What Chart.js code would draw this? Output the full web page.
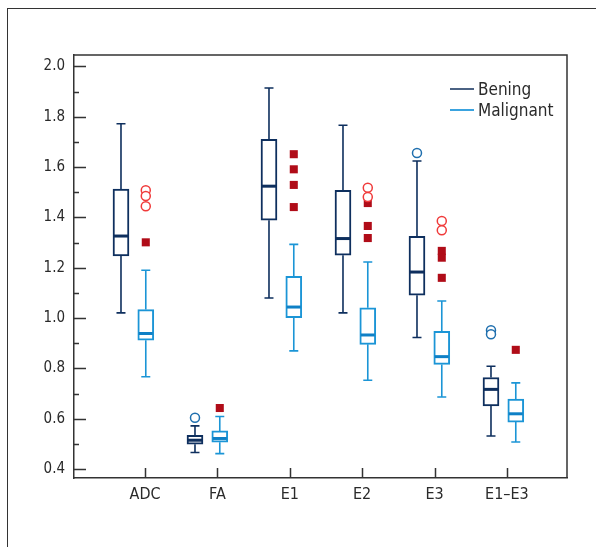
<!DOCTYPE html>
<html>
<head>
<meta charset="utf-8">
<script src="https://cdn.jsdelivr.net/npm/chart.js@4.4.1/dist/chart.umd.min.js"></script>
<style>
  html, body { margin: 0; padding: 0; background: #fff; }
  #frame { position: absolute; left: 7px; top: 8px; width: 620px; height: 560px;
           border-left: 1px solid #333; border-top: 1px solid #333; }
  canvas { position: absolute; left: 0; top: 0; }
</style>
</head>
<body>
<div id="frame"></div>
<canvas id="myChart" width="596" height="547"></canvas>
<script>
// data
var categories = ['ADC', 'FA', 'E1', 'E2', 'E3', 'E1\u2013E3'];
var yTicks = [0.4, 0.6, 0.8, 1.0, 1.2, 1.4, 1.6, 1.8, 2.0];

var beningMin    = [1.021, 0.466, 1.080, 1.021, 0.923, 0.532];
var beningQ1     = [1.247, 0.499, 1.389, 1.250, 1.091, 0.651];
var beningMedian = [1.326, 0.515, 1.524, 1.316, 1.183, 0.717];
var beningQ3     = [1.512, 0.534, 1.710, 1.508, 1.325, 0.764];
var beningMax    = [1.772, 0.572, 1.914, 1.766, 1.624, 0.809];
var beningOutliers = [[], [0.604], [], [], [1.656], [0.952, 0.936]];

var malignantMin    = [0.767, 0.462, 0.870, 0.753, 0.687, 0.508];
var malignantQ1     = [0.912, 0.507, 1.002, 0.896, 0.816, 0.587];
var malignantMedian = [0.939, 0.522, 1.044, 0.933, 0.847, 0.620];
var malignantQ3     = [1.034, 0.552, 1.166, 1.041, 0.948, 0.678];
var malignantMax    = [1.190, 0.609, 1.293, 1.223, 1.068, 0.743];
var malignantOutliers = [[1.508, 1.485, 1.444], [], [], [1.518, 1.481], [1.386, 1.349], []];
var malignantExtremes = [[1.301], [0.643], [1.651, 1.591, 1.529, 1.441],
                         [1.457, 1.366, 1.318], [1.267, 1.240, 1.160], [0.874]];

var fontFamily = "'Liberation Sans Narrow', 'DejaVu Sans Condensed', 'Arial Narrow', sans-serif";
var textColor = '#2a2a2a';
var axisColor = '#333';

var groups = [
    { label: 'Bening', color: '#0e2f5e', legendColor: '#4b6283', offset: 0.635,
      min: beningMin, q1: beningQ1, median: beningMedian, q3: beningQ3, max: beningMax },
    { label: 'Malignant', color: '#1b95d6', legendColor: '#3aa3df', offset: 0.97,
      min: malignantMin, q1: malignantQ1, median: malignantMedian, q3: malignantQ3, max: malignantMax }
];

function tickPos(k) { return 0.96 + 0.978 * k; }

function points(lists, offset) {
    var pts = [];
    lists.forEach(function (vals, k) {
        vals.forEach(function (v) { pts.push({ x: k + offset, y: v }); });
    });
    return pts;
}

var datasets = [];
// outliers first so they are drawn on top
datasets.push({
    type: 'scatter', label: 'Bening outliers', data: points(beningOutliers, groups[0].offset),
    pointStyle: 'circle', pointRadius: 4.5, borderWidth: 1.5,
    borderColor: '#1f6fae', backgroundColor: '#fff'
});
datasets.push({
    type: 'scatter', label: 'Malignant outliers', data: points(malignantOutliers, groups[1].offset),
    pointStyle: 'circle', pointRadius: 4.5, borderWidth: 1.5,
    borderColor: '#f03a3a', backgroundColor: '#fff'
});
datasets.push({
    type: 'scatter', label: 'Malignant extremes', data: points(malignantExtremes, groups[1].offset),
    pointStyle: 'rect', pointRadius: 5.7, borderWidth: 0,
    borderColor: '#b00c18', backgroundColor: '#b00c18'
});
groups.forEach(function (g) {
    datasets.push({
        type: 'bar', label: g.label,
        data: categories.map(function (c, k) { return { x: k + g.offset, y: [g.q1[k], g.q3[k]] }; }),
        backgroundColor: '#fff', borderColor: g.color, borderWidth: 2,
        borderSkipped: false, barThickness: 16, grouped: false
    });
});

var boxPlugin = {
    id: 'boxWhiskers',
    beforeDatasetsDraw: function (chart) {
        var ctx = chart.ctx, xs = chart.scales.x, ys = chart.scales.y;
        ctx.save();
        groups.forEach(function (g) {
            ctx.strokeStyle = g.color;
            ctx.lineWidth = 1.6;
            categories.forEach(function (c, k) {
                var x = xs.getPixelForValue(k + g.offset);
                var yMin = ys.getPixelForValue(g.min[k]), yQ1 = ys.getPixelForValue(g.q1[k]);
                var yQ3 = ys.getPixelForValue(g.q3[k]), yMax = ys.getPixelForValue(g.max[k]);
                ctx.beginPath();
                ctx.moveTo(x, yMax); ctx.lineTo(x, yQ3);
                ctx.moveTo(x, yQ1); ctx.lineTo(x, yMin);
                ctx.moveTo(x - 4.5, yMax); ctx.lineTo(x + 4.5, yMax);
                ctx.moveTo(x - 4.5, yMin); ctx.lineTo(x + 4.5, yMin);
                ctx.stroke();
            });
        });
        ctx.restore();
    },
    afterDatasetsDraw: function (chart) {
        var ctx = chart.ctx, xs = chart.scales.x, ys = chart.scales.y;
        ctx.save();
        groups.forEach(function (g, gi) {
            ctx.strokeStyle = gi === 0 ? g.color : '#0f80c6';
            ctx.lineWidth = 3;
            categories.forEach(function (c, k) {
                var x = xs.getPixelForValue(k + g.offset);
                var y = ys.getPixelForValue(g.median[k]);
                ctx.beginPath();
                ctx.moveTo(x - 7, y); ctx.lineTo(x + 7, y);
                ctx.stroke();
            });
        });
        ctx.restore();
    },
    afterDraw: function (chart) {
        var ctx = chart.ctx, xs = chart.scales.x, ys = chart.scales.y, a = chart.chartArea;
        ctx.save();
        ctx.strokeStyle = axisColor;
        ctx.lineWidth = 1.5;
        ctx.beginPath();
        // plot frame top and right
        ctx.moveTo(a.left, a.top); ctx.lineTo(a.right, a.top); ctx.lineTo(a.right, a.bottom);
        // y ticks, pointing inside
        for (var v = 4; v <= 20; v++) {
            var y = Math.round(ys.getPixelForValue(v / 10)) + 0.5;
            ctx.moveTo(a.left, y); ctx.lineTo(a.left + (v % 2 === 0 ? 12 : 5), y);
        }
        // x ticks
        categories.forEach(function (c, k) {
            var x = Math.round(xs.getPixelForValue(tickPos(k))) + 0.5;
            ctx.moveTo(x, a.bottom); ctx.lineTo(x, a.bottom - 10);
        });
        ctx.stroke();

        // legend
        ctx.font = '17px ' + fontFamily;
        ctx.textBaseline = 'alphabetic';
        ctx.textAlign = 'left';
        groups.forEach(function (g, i) {
            var lx = a.right - 117, ly = a.top + 34 + i * 21;
            ctx.strokeStyle = g.legendColor;
            ctx.lineWidth = 2;
            ctx.beginPath();
            ctx.moveTo(lx, ly); ctx.lineTo(lx + 24, ly);
            ctx.stroke();
            ctx.fillStyle = textColor;
            ctx.fillText(g.label, lx + 28, ly + 6);
        });
        ctx.restore();
    }
};

var ctx = document.getElementById('myChart').getContext('2d');
var chart = new Chart(ctx, {
    type: 'bar',
    data: { datasets: datasets },
    options: {
        responsive: false,
        animation: false,
        events: [],
        layout: { padding: { top: 55, right: 29, left: 0, bottom: 0 } },
        plugins: { legend: { display: false }, tooltip: { enabled: false } },
        scales: {
            x: {
                type: 'linear',
                offset: false,
                min: 0,
                max: 493 / 74,
                grid: { display: false, drawTicks: false, offset: false },
                border: { display: true, color: axisColor, width: 1.5 },
                afterFit: function (scale) { scale.height = 69; },
                afterBuildTicks: function (scale) {
                    scale.ticks = categories.map(function (c, k) { return { value: tickPos(k) }; });
                },
                ticks: {
                    autoSkip: false, maxRotation: 0, padding: 7,
                    color: textColor, font: { family: fontFamily, size: 16 },
                    callback: function (value, index) { return categories[index]; }
                }
            },
            y: {
                min: 0.365,
                max: 2.045,
                grid: { display: false, drawTicks: false },
                border: { display: true, color: axisColor, width: 1.5 },
                afterFit: function (scale) { scale.width = 74; },
                afterBuildTicks: function (scale) {
                    scale.ticks = yTicks.map(function (v) { return { value: v }; });
                },
                ticks: {
                    padding: 9, color: textColor, font: { family: fontFamily, size: 15 },
                    callback: function (value) { return value.toFixed(1); }
                }
            }
        }
    },
    plugins: [boxPlugin]
});
</script>
</body>
</html>
